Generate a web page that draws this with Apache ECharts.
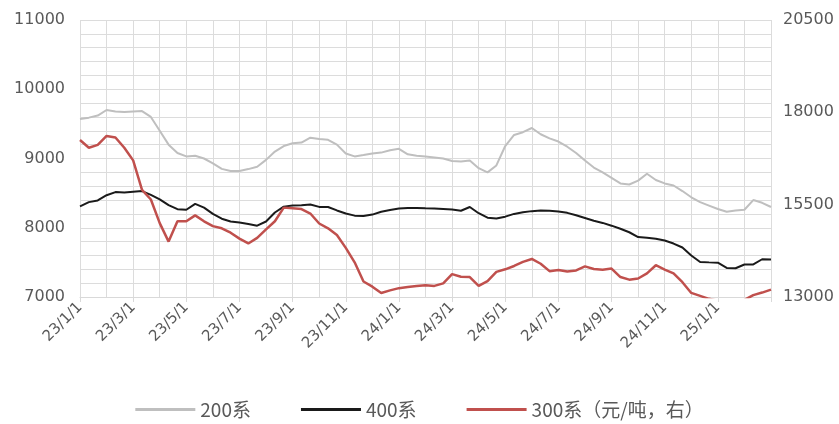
<!DOCTYPE html>
<html>
<head>
<meta charset="utf-8">
<script src="https://cdn.jsdelivr.net/npm/echarts@6/dist/echarts.min.js"></script>
<style>
  html, body { margin: 0; padding: 0; background: #fff; }
  #chart-container { width: 839px; height: 424px; }
</style>
</head>
<body>
<div id="chart-container"></div>
<script>
// dates: 1st, 11th, 21st of each month (23/1/1 .. 25/3/1)
var dates = [
  '23/1/1','23/1/11','23/1/21','23/2/1','23/2/11','23/2/21','23/3/1','23/3/11','23/3/21',
  '23/4/1','23/4/11','23/4/21','23/5/1','23/5/11','23/5/21','23/6/1','23/6/11','23/6/21',
  '23/7/1','23/7/11','23/7/21','23/8/1','23/8/11','23/8/21','23/9/1','23/9/11','23/9/21',
  '23/10/1','23/10/11','23/10/21','23/11/1','23/11/11','23/11/21','23/12/1','23/12/11','23/12/21',
  '24/1/1','24/1/11','24/1/21','24/2/1','24/2/11','24/2/21','24/3/1','24/3/11','24/3/21',
  '24/4/1','24/4/11','24/4/21','24/5/1','24/5/11','24/5/21','24/6/1','24/6/11','24/6/21',
  '24/7/1','24/7/11','24/7/21','24/8/1','24/8/11','24/8/21','24/9/1','24/9/11','24/9/21',
  '24/10/1','24/10/11','24/10/21','24/11/1','24/11/11','24/11/21','24/12/1','24/12/11','24/12/21',
  '25/1/1','25/1/11','25/1/21','25/2/1','25/2/11','25/2/21','25/3/1'
];

// 200系 (left axis)
var s200 = [
  9570,9590,9620,9700,9680,9670,9680,9685,9600,
  9400,9200,9080,9030,9040,9000,8930,8850,8820,
  8820,8847,8880,8980,9100,9180,9220,9230,9300,
  9280,9270,9200,9073,9030,9050,9073,9085,9120,
  9140,9060,9040,9030,9016,9000,8965,8955,8970,
  8860,8800,8900,9180,9340,9380,9440,9350,9290,
  9245,9170,9080,8970,8870,8800,8720,8640,8625,
  8680,8780,8690,8640,8610,8530,8440,8370,8320,
  8270,8230,8250,8260,8400,8360,8300
];

// 400系 (left axis)
var s400 = [
  8310,8370,8395,8470,8515,8510,8520,8530,8475,
  8410,8326,8268,8260,8345,8290,8200,8130,8090,
  8075,8055,8030,8090,8220,8305,8320,8326,8336,
  8301,8300,8250,8205,8175,8170,8190,8230,8255,
  8278,8285,8285,8280,8278,8270,8262,8245,8300,
  8210,8145,8135,8160,8200,8225,8240,8250,8245,
  8235,8215,8180,8140,8100,8070,8030,7985,7935,
  7865,7855,7840,7815,7772,7715,7600,7506,7500,
  7495,7420,7415,7469,7470,7545,7540
];

// 300系 (right axis, 元/吨)
var s300 = [
  17250,17040,17120,17360,17320,17040,16700,15900,15640,
  15000,14500,15050,15050,15210,15050,14920,14860,14740,
  14580,14450,14600,14830,15050,15420,15400,15380,15260,
  14990,14860,14680,14330,13940,13420,13280,13110,13180,
  13240,13270,13300,13320,13300,13370,13620,13550,13540,
  13300,13430,13680,13750,13840,13950,14030,13900,13700,
  13730,13690,13720,13830,13760,13740,13770,13540,13470,
  13500,13640,13860,13740,13640,13400,13110,13030,12950,
  12900,12880,12880,12920,13050,13120,13200
];

var leftTicks = { min: 7000, max: 11000, interval: 1000 };
var rightTicks = { min: 13000, max: 20500, interval: 2500 };

var labelColor = '#595959';
var gridColor = '#DCDCDC';
var font = 'DejaVu Sans';

var option = {
    animation: false,
    grid: {
        left: 80,
        right: 68,
        top: 20,
        bottom: 127
    },
    legend: {
        bottom: 0,
        left: 'center',
        icon: 'rect',
        itemWidth: 60,
        itemHeight: 3,
        itemGap: 50,
        textStyle: {
            color: labelColor,
            fontSize: 19,
            fontFamily: 'Noto Sans CJK SC'
        },
        data: ['200系', '400系', '300系（元/吨，右）']
    },
    xAxis: {
        type: 'category',
        data: dates,
        boundaryGap: false,
        axisLine: { lineStyle: { color: '#D9D9D9' } },
        axisTick: {
            length: 5,
            lineStyle: { color: '#D9D9D9' },
            interval: function (i) { return i % 6 === 0; }
        },
        axisLabel: {
            rotate: 45,
            margin: 8,
            color: labelColor,
            fontSize: 15,
            fontFamily: font,
            interval: function (i) { return i % 6 === 0 && i < dates.length - 1; }
        },
        splitLine: {
            show: true,
            lineStyle: { color: gridColor, width: 1 },
            interval: function (i) { return i % 3 === 0; }
        }
    },
    yAxis: [
        {
            type: 'value',
            min: leftTicks.min,
            max: leftTicks.max,
            interval: leftTicks.interval,
            axisLine: { show: false },
            axisTick: { show: false },
            axisLabel: {
                color: labelColor, fontSize: 16, fontFamily: font, margin: 15,
                formatter: function (v) { return String(v); }
            },
            splitLine: { show: true, lineStyle: { color: gridColor } },
            minorTick: { show: false, splitNumber: 5 },
            minorSplitLine: { show: true, lineStyle: { color: gridColor } }
        },
        {
            type: 'value',
            min: rightTicks.min,
            max: rightTicks.max,
            interval: rightTicks.interval,
            axisLine: { show: false },
            axisTick: { show: false },
            axisLabel: {
                color: labelColor, fontSize: 16, fontFamily: font, margin: 12,
                formatter: function (v) { return String(v); }
            },
            splitLine: { show: false }
        }
    ],
    series: [
        {
            name: '200系',
            type: 'line',
            yAxisIndex: 0,
            data: s200,
            showSymbol: false,
            color: '#BFBFBF',
            lineStyle: { width: 2 }
        },
        {
            name: '400系',
            type: 'line',
            yAxisIndex: 0,
            data: s400,
            showSymbol: false,
            color: '#1A1A1A',
            lineStyle: { width: 2 }
        },
        {
            name: '300系（元/吨，右）',
            type: 'line',
            yAxisIndex: 1,
            data: s300,
            showSymbol: false,
            color: '#C0504D',
            lineStyle: { width: 2.5 },
            clip: true
        }
    ]
};

var myChart = echarts.init(document.getElementById('chart-container'));
myChart.setOption(option);
</script>
</body>
</html>
